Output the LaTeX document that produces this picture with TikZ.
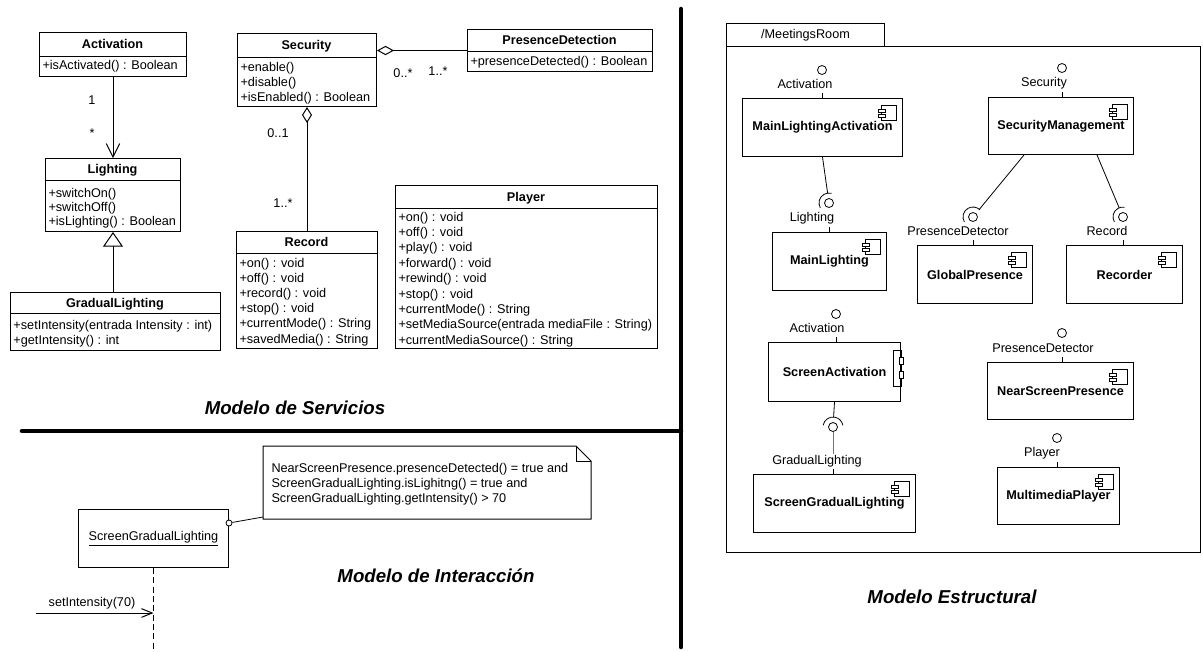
\documentclass[tikz,border=0pt]{standalone}
\usepackage{fontspec}
\setmainfont{Liberation Sans}
\usetikzlibrary{arrows.meta, calc}

\begin{document}
\begin{tikzpicture}[x=0.75pt, y=-0.75pt, line width=0.75pt,
    font=\fontsize{9.5}{11}\selectfont,
    clsbox/.style={draw, inner sep=0pt, anchor=north west},
    wh/.style 2 args={minimum width={#1*0.75pt}, minimum height={#2*0.75pt}},
    clshead/.style={anchor=base, inner sep=0pt, font=\fontsize{9.5}{11}\selectfont\bfseries},
    clsop/.style={anchor=base west, inner sep=0pt},
    mult/.style={anchor=base, inner sep=0pt},
    comp/.style={clsbox, font=\fontsize{9.5}{11}\selectfont\bfseries},
    iball/.style={draw, circle, inner sep=0pt, minimum size=6.75pt, line width=0.6pt},
    iname/.style={anchor=base, inner sep=0.5pt},
    wire/.style={line width=0.6pt},
    divider/.style={line width=3.4pt, line cap=round},
    modeltitle/.style={font=\fontsize{14}{16}\selectfont\bfseries\itshape},
    lifeline/.style={line width=0.6pt, dash pattern=on 4.5pt off 2.5pt},
    compicon/.pic={
        \draw[line width=0.6pt] (-7.5,-7.5) rectangle (7.5,7.5);
        \draw[line width=0.6pt, fill=white] (-11,-4) rectangle (-4,-1);
        \draw[line width=0.6pt, fill=white] (-11,1.5) rectangle (-4,4.5);
    }]
    \useasboundingbox (0,0) rectangle (1203,651);

    % Separators
    \coordinate (vtop) at (681,9);
    \coordinate (vbot) at (681,647);
    \coordinate (hleft) at (22,431);
    \draw[divider] (vtop) -- (vbot);
    \draw[divider] (hleft) -- (hleft -| vtop);

    % ---------------- Modelo de Servicios ----------------
    % Activation
    \node[clsbox, wh={147}{44}] (act) at (39,32) {};
    \draw (act.west |- 0,56) -- (act.east |- 0,56);
    \node[clshead] (act-h) at (112.5,48.5) {Activation};
    \node[clsop] (act-1) at (42,69) {+isActivated() : Boolean};

    % Lighting
    \node[clsbox, wh={135}{73}] (light) at (45,158) {};
    \draw (light.west |- 0,180) -- (light.east |- 0,180);
    \node[clshead] (light-h) at (112.5,173.5) {Lighting};
    \foreach \m [count=\i] in {+switchOn(),+switchOff(),+isLighting() : Boolean}
        \node[clsop] (light-\i) at (48,{197+14*(\i-1)}) {\m};

    % GradualLighting
    \node[clsbox, wh={210}{58}] (glight) at (10,292) {};
    \draw (glight.west |- 0,313) -- (glight.east |- 0,313);
    \node[clshead] (glight-h) at (115,307) {GradualLighting};
    \foreach \m [count=\i] in {+setIntensity(entrada Intensity : int),+getIntensity() : int}
        \node[clsop] (glight-\i) at (13,{329+15*(\i-1)}) {\m};

    % Security
    \node[clsbox, wh={139}{73}] (sec) at (237,33) {};
    \draw (sec.west |- 0,57) -- (sec.east |- 0,57);
    \node[clshead] (sec-h) at (306.5,49.5) {Security};
    \foreach \m [count=\i] in {+enable(),+disable(),+isEnabled() : Boolean}
        \node[clsop] (sec-\i) at (240,{71+15*(\i-1)}) {\m};

    % PresenceDetection
    \node[clsbox, wh={185}{42}] (pres) at (467,29) {};
    \draw (pres.west |- 0,51) -- (pres.east |- 0,51);
    \node[clshead] (pres-h) at (559.5,44.5) {PresenceDetection};
    \node[clsop] (pres-1) at (470,65) {+presenceDetected() : Boolean};

    % Record
    \node[clsbox, wh={141}{117}] (record) at (236,231) {};
    \draw (record.west |- 0,253) -- (record.east |- 0,253);
    \node[clshead] (record-h) at (306.5,246.5) {Record};
    \foreach \m [count=\i] in {+on() : void,+off() : void,+record() : void,+stop() : void,%
        +currentMode() : String,+savedMedia() : String}
        \node[clsop] (record-\i) at (239,{267+15.2*(\i-1)}) {\m};

    % Player
    \node[clsbox, wh={262}{163}] (player) at (395,185) {};
    \draw (player.west |- 0,208) -- (player.east |- 0,208);
    \node[clshead] (player-h) at (526,201) {Player};
    \foreach \m [count=\i] in {+on() : void,+off() : void,+play() : void,+forward() : void,%
        +rewind() : void,+stop() : void,+currentMode() : String,%
        +setMediaSource(entrada mediaFile : String),+currentMediaSource() : String}
        \node[clsop] (player-\i) at (398,{221+15.4*(\i-1)}) {\m};

    % Associations
    \draw[-{Straight Barb[length=10pt, width=10pt]}] (act.south) -- (light.north);
    \node[mult] (m-act) at (92,104.5) {1};
    \node[mult] (m-light) at (92,137) {*};
    \draw[-{Triangle[open, length=11pt, width=15pt]}] (light.south |- glight.north) -- (light.south);
    \draw[{Diamond[open, length=12.75pt, width=7pt]}-] (sec.east |- pres.west) -- (pres.west);
    \node[mult] (m-sec1) at (403,77.5) {0..*};
    \node[mult] (m-pres) at (438,75.5) {1..*};
    \draw[{Diamond[open, length=12pt, width=7.5pt]}-] (sec.south) -- (sec.south |- record.north);
    \node[mult] (m-sec2) at (278,137.5) {0..1};
    \node[mult] (m-record) at (283,207.5) {1..*};

    \node[modeltitle] (t-serv) at (295,408) {Modelo de Servicios};

    % ---------------- Modelo de Interaccion ----------------
    \node[clsbox, wh={150}{58}] (obj) at (78,509) {\underline{ScreenGradualLighting}};
    \draw[lifeline] (obj.south) -- (obj.south |- 0,651);
    \coordinate (msg-from) at (36,613);
    \draw[-{Straight Barb[length=8pt, width=6.5pt]}] (msg-from) -- (msg-from -| obj.south);
    \node[mult] (msg-l) at (92,606) {setIntensity(70)};

    % Note
    \node[inner sep=0pt, anchor=north west, wh={327}{72}] (note) at (263,446) {};
    \draw (note.north west) -- ([shift={(-15,0)}]note.north east) -- ([shift={(0,15)}]note.north east)
        -- (note.south east) -- (note.south west) -- cycle;
    \draw ([shift={(-15,0)}]note.north east) |- ([shift={(0,15)}]note.north east);
    \node[clsop] (note-1) at (271,472) {NearScreenPresence.presenceDetected() = true and};
    \node[clsop] (note-2) at (271,487) {ScreenGradualLighting.isLighitng() = true and};
    \node[clsop] (note-3) at (271,502) {ScreenGradualLighting.getIntensity() > 70};
    \node[draw, circle, inner sep=0pt, minimum size=4.5pt, line width=0.6pt, fill=white] (obj-pt) at (obj.east |- 0,523) {};
    \draw[wire] (obj-pt) -- ([shift={(0,-2)}]note.south west);

    \node[modeltitle] (t-inter) at (436,576) {Modelo de Interacción};

    % ---------------- Modelo Estructural ----------------
    \node[clsbox, wh={158}{23}] (pkg-tab) at (726,23) {/MeetingsRoom};
    \node[clsbox, wh={474}{506}] (pkg) at (726,46) {};

    % Components
    \node[comp, wh={160}{58}] (mla) at (742,98) {MainLightingActivation};
    \node[comp, wh={114}{58}] (ml) at (772,232) {MainLighting};
    \node[comp, wh={145}{57}] (secm) at (988,97) {SecurityManagement};
    \node[comp, wh={115}{58}] (gp) at (917,245) {GlobalPresence};
    \node[comp, wh={116}{58}] (rec) at (1066,245) {Recorder};
    \node[comp, wh={132}{59}] (sa) at (768,342) {ScreenActivation};
    \node[comp, wh={162}{58}] (sgl) at (753,474) {ScreenGradualLighting};
    \node[comp, wh={146}{57}] (nsp) at (987,362) {NearScreenPresence};
    \node[comp, wh={122}{57}] (mp) at (997,467) {MultimediaPlayer};
    \foreach \c in {mla,ml,secm,gp,rec,sgl,nsp,mp}
        \pic at ([shift={(-14,15)}]\c.north east) {compicon};
    \draw[line width=0.6pt] ([shift={(-8,8)}]sa.north east) rectangle ([shift={(0,44)}]sa.north east);
    \draw[line width=0.6pt, fill=white] ([shift={(-2,15)}]sa.north east) rectangle ([shift={(2,22)}]sa.north east);
    \draw[line width=0.6pt, fill=white] ([shift={(-2,29)}]sa.north east) rectangle ([shift={(2,36)}]sa.north east);

    % Provided interfaces
    \node[iball] (b-mla) at (822,70) {};
    \node[iball] (b-ml) at (829,203) {};
    \node[iball] (b-secm) at (1062,68) {};
    \node[iball] (b-gp) at (973,217) {};
    \node[iball] (b-rec) at (1123,217) {};
    \node[iball] (b-sa) at (836,314) {};
    \node[iball] (b-sgl) at (833,427) {};
    \node[iball] (b-nsp) at (1062,333) {};
    \node[iball] (b-mp) at (1057,438) {};
    \node[iname] (l-mla) at (805,88) {Activation};
    \node[iname] (l-ml) at (812,221) {Lighting};
    \node[iname] (l-secm) at (1044,86) {Security};
    \node[iname] (l-gp) at (958,235) {PresenceDetector};
    \node[iname] (l-rec) at (1107,235) {Record};
    \node[iname] (l-sa) at (817,332) {Activation};
    \node[iname] (l-sgl) at (817,464) {GradualLighting};
    \node[iname] (l-nsp) at (1043,352) {PresenceDetector};
    \node[iname] (l-mp) at (1042,456) {Player};
    \foreach \c in {mla,ml,secm,gp,rec,sa,sgl,nsp,mp}
        \draw[wire] (\c.north -| b-\c) -- ++(0,-5);

    % Required interfaces
    \draw[wire] (mla.south) -- ($(b-ml.center)!7.5pt!(mla.south)$);
    \draw[wire] (b-ml.center) ++(150:10) arc[start angle=150, end angle=285, radius=10];
    \coordinate (secm-l) at ([shift={(36,0)}]secm.south west);
    \coordinate (secm-r) at ([shift={(109,0)}]secm.south west);
    \draw[wire] (secm-l) -- ($(b-gp.center)!7.5pt!(secm-l)$);
    \draw[wire] (b-gp.center) ++(150:10) arc[start angle=150, end angle=315, radius=10];
    \draw[wire] (secm-r) -- ($(b-rec.center)!7.5pt!(secm-r)$);
    \draw[wire] (b-rec.center) ++(150:10) arc[start angle=150, end angle=280, radius=10];
    \draw[wire] (sa.south) -- ($(b-sgl.center)!7.5pt!(sa.south)$);
    \draw[wire] (b-sgl.center) ++(190:10) arc[start angle=190, end angle=350, radius=10];
    \draw[wire, black!55] (b-sgl.south) -- (b-sgl.south |- l-sgl.north);

    \node[modeltitle] (t-estr) at (952,597) {Modelo Estructural};
\end{tikzpicture}
\end{document}
